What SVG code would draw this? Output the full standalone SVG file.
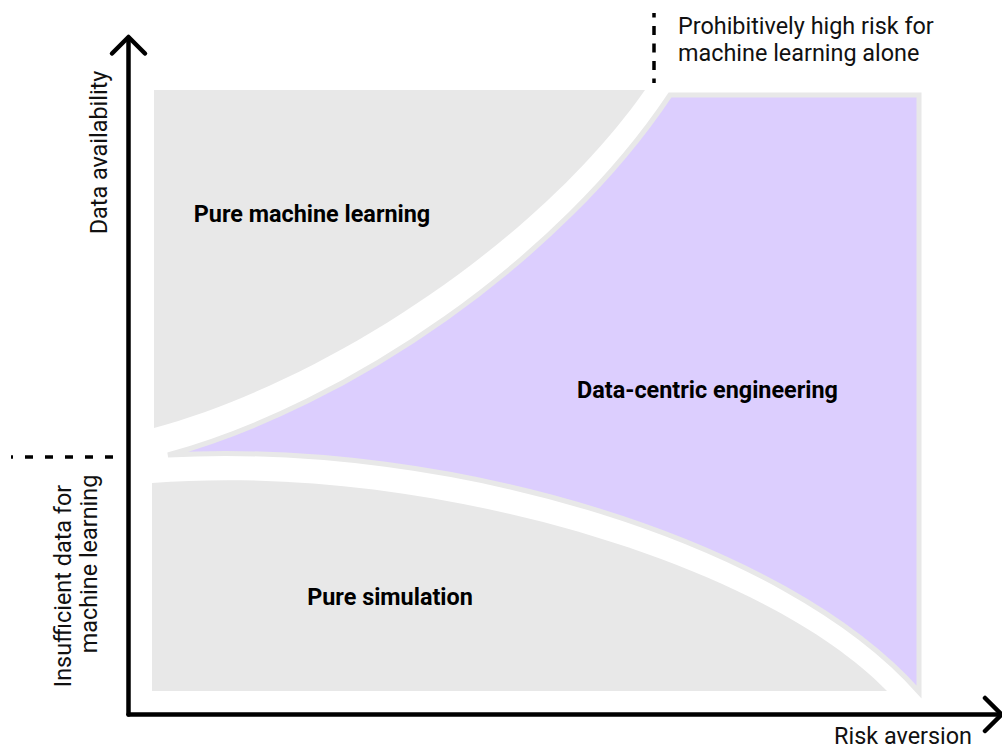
<svg xmlns="http://www.w3.org/2000/svg" width="1002" height="748" viewBox="0 0 1002 748">
<style>
.region{fill:#e8e8e8}
.dce{fill:#dccefe;stroke:#e8e8e8;stroke-width:5}
.axis{fill:none;stroke:#000;stroke-width:4.5;stroke-linecap:round;stroke-linejoin:round}
.dash{stroke:#000;stroke-width:3.5;fill:none}
.t{font-family:Roboto,"Liberation Sans",sans-serif;font-size:23.4px;fill:#111}
.b{font-family:Roboto,"Liberation Sans",sans-serif;font-size:23.4px;font-weight:bold;fill:#000}
</style>
<rect width="1002" height="748" fill="#fff"/>
<g id="pure-machine-learning">
<path class="region" d="M154,90 L645,90 C540,240 330,380 154,428 Z"/>
<text class="b" x="312" y="222" text-anchor="middle">Pure machine learning</text>
</g>
<g id="data-centric-engineering">
<path class="dce" d="M168,455 C350,405 560,260 670,95 L919,95 L919,692 C785,540 450,440 168,455 Z"/>
<text class="b" x="707.5" y="398" text-anchor="middle">Data-centric engineering</text>
</g>
<g id="pure-simulation">
<path class="region" d="M152,483 C420,462 760,560 887,691 L152,691 Z"/>
<text class="b" x="390" y="605" text-anchor="middle">Pure simulation</text>
</g>
<g id="connectors">
<line class="axis" x1="128.5" y1="38" x2="128.5" y2="714.5"/>
<polyline class="axis" points="112,53.5 128.5,37 145,53.5"/>
<line class="axis" x1="128.5" y1="714.5" x2="999" y2="714.5"/>
<polyline class="axis" points="985,698 1001.5,714.5 985,731"/>
<line class="dash" x1="11" y1="457" x2="114" y2="457" stroke-dasharray="8 12" stroke-dashoffset="6"/>
<line class="dash" x1="654" y1="13" x2="654" y2="83" stroke-dasharray="9 8.5" stroke-dashoffset="4.5"/>
</g>
<g id="labels">
<text class="t" transform="translate(107,152.5) rotate(-90)" text-anchor="middle">Data availability</text>
<text class="t" transform="translate(71,586) rotate(-90)" text-anchor="middle">Insufficient data for</text>
<text class="t" transform="translate(97,564) rotate(-90)" text-anchor="middle">machine learning</text>
<text class="t" x="678" y="34">Prohibitively high risk for</text>
<text class="t" x="678" y="61">machine learning alone</text>
<text class="t" x="972" y="744" text-anchor="end">Risk aversion</text>
</g>
</svg>
